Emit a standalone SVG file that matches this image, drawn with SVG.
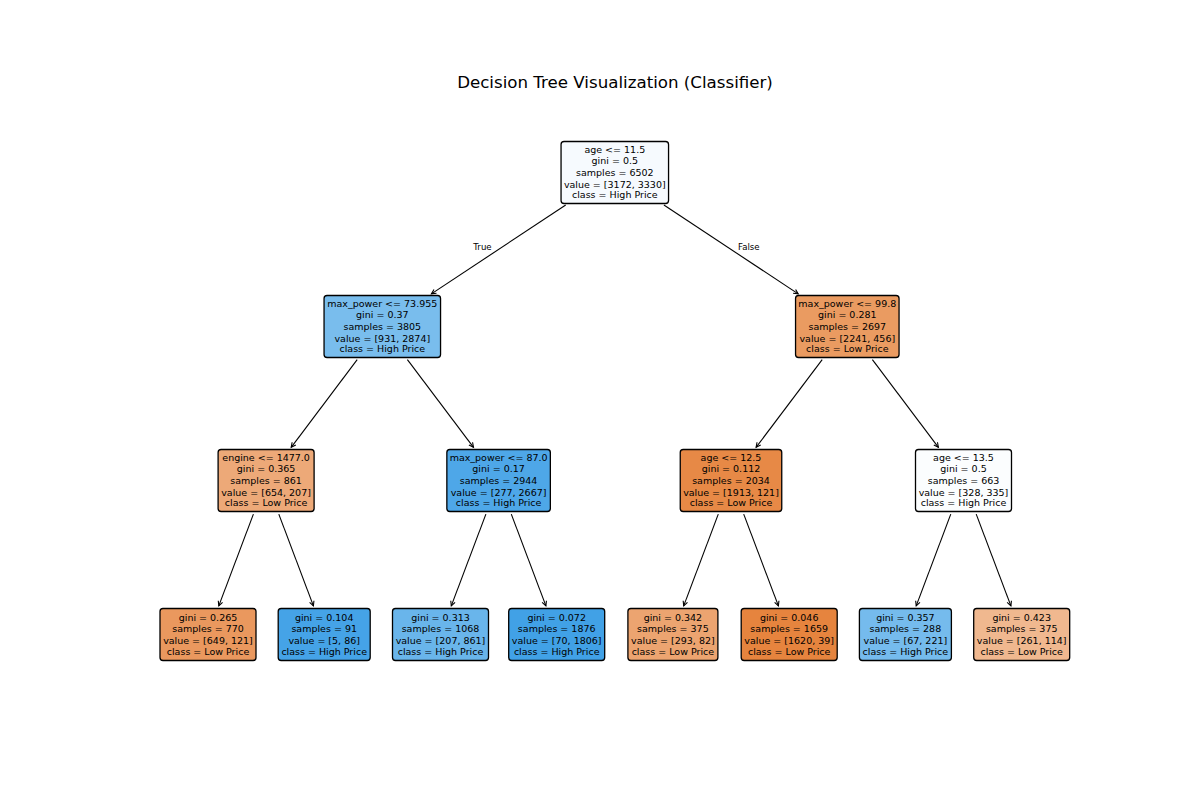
<svg xmlns="http://www.w3.org/2000/svg" width="1200" height="800" viewBox="0 0 1200 800">
<style>
.box{stroke:#000;stroke-width:1.3}
.nt{font-family:"DejaVu Sans","Liberation Sans",sans-serif;font-size:9.5px;fill:#000;text-anchor:middle}
.lbl{font-family:"DejaVu Sans","Liberation Sans",sans-serif;font-size:8.6px;fill:#000;text-anchor:middle}
.title{font-family:"DejaVu Sans","Liberation Sans",sans-serif;font-size:16.67px;fill:#000;text-anchor:middle}
.edge{stroke:#000;stroke-width:1.1;fill:none;marker-end:url(#ah)}
</style>
<defs>
<marker id="ah" markerUnits="userSpaceOnUse" viewBox="-6 -4 8 8" markerWidth="8" markerHeight="8" refX="0" refY="0" orient="auto">
<path d="M-4.6,-2.3 L0,0 L-4.6,2.3" fill="none" stroke="#000" stroke-width="1.1"/>
</marker>
</defs>
<rect width="1200" height="800" fill="#fff"/>
<text class="title" x="615" y="88">Decision Tree Visualization (Classifier)</text>

<g id="connectors">
<line class="edge" x1="565.7" y1="205.0" x2="431.4" y2="293.9"/>
<line class="edge" x1="663.9" y1="205.0" x2="798.2" y2="293.9"/>
<line class="edge" x1="357.2" y1="359.7" x2="291.2" y2="447.3"/>
<line class="edge" x1="407.4" y1="359.7" x2="473.5" y2="447.3"/>
<line class="edge" x1="822.2" y1="359.7" x2="756.1" y2="447.3"/>
<line class="edge" x1="872.4" y1="359.7" x2="938.4" y2="447.3"/>
<line class="edge" x1="253.4" y1="514.1" x2="218.8" y2="605.9"/>
<line class="edge" x1="278.8" y1="514.1" x2="313.4" y2="605.9"/>
<line class="edge" x1="485.9" y1="514.1" x2="451.3" y2="605.9"/>
<line class="edge" x1="511.3" y1="514.1" x2="545.9" y2="605.9"/>
<line class="edge" x1="718.3" y1="514.1" x2="683.7" y2="605.9"/>
<line class="edge" x1="743.7" y1="514.1" x2="778.4" y2="605.9"/>
<line class="edge" x1="950.8" y1="514.1" x2="916.2" y2="605.9"/>
<line class="edge" x1="976.2" y1="514.1" x2="1010.9" y2="605.9"/>
<text class="lbl" x="482.5" y="250">True</text>
<text class="lbl" x="748.8" y="250">False</text>
</g>

<g id="node0">
<rect class="box" x="561.05" y="141.5" width="107.5" height="62" rx="3" fill="#f6fafe"/>
<text class="nt"><tspan x="614.8" y="152.8">age &lt;= 11.5</tspan><tspan x="614.8" y="164.3">gini = 0.5</tspan><tspan x="614.8" y="175.5">samples = 6502</tspan><tspan x="614.8" y="187.7">value = [3172, 3330]</tspan><tspan x="614.8" y="198.3">class = High Price</tspan></text>
</g>

<g id="node1">
<rect class="box" x="324.05" y="295.5" width="116.5" height="62" rx="3" fill="#79bded"/>
<text class="nt"><tspan x="382.3" y="306.8">max_power &lt;= 73.955</tspan><tspan x="382.3" y="318.3">gini = 0.37</tspan><tspan x="382.3" y="329.5">samples = 3805</tspan><tspan x="382.3" y="341.7">value = [931, 2874]</tspan><tspan x="382.3" y="352.3">class = High Price</tspan></text>
</g>

<g id="node8">
<rect class="box" x="795.55" y="295.5" width="103.5" height="62" rx="3" fill="#ea9b61"/>
<text class="nt"><tspan x="847.3" y="306.8">max_power &lt;= 99.8</tspan><tspan x="847.3" y="318.3">gini = 0.281</tspan><tspan x="847.3" y="329.5">samples = 2697</tspan><tspan x="847.3" y="341.7">value = [2241, 456]</tspan><tspan x="847.3" y="352.3">class = Low Price</tspan></text>
</g>

<g id="node2">
<rect class="box" x="218.1" y="449.5" width="96" height="62" rx="3" fill="#eda978"/>
<text class="nt"><tspan x="266.1" y="460.8">engine &lt;= 1477.0</tspan><tspan x="266.1" y="472.3">gini = 0.365</tspan><tspan x="266.1" y="483.5">samples = 861</tspan><tspan x="266.1" y="495.7">value = [654, 207]</tspan><tspan x="266.1" y="506.3">class = Low Price</tspan></text>
</g>

<g id="node5">
<rect class="box" x="446.85" y="449.5" width="103.5" height="62" rx="3" fill="#4ea7e8"/>
<text class="nt"><tspan x="498.6" y="460.8">max_power &lt;= 87.0</tspan><tspan x="498.6" y="472.3">gini = 0.17</tspan><tspan x="498.6" y="483.5">samples = 2944</tspan><tspan x="498.6" y="495.7">value = [277, 2667]</tspan><tspan x="498.6" y="506.3">class = High Price</tspan></text>
</g>

<g id="node9">
<rect class="box" x="680.25" y="449.5" width="101.5" height="62" rx="3" fill="#e78946"/>
<text class="nt"><tspan x="731" y="460.8">age &lt;= 12.5</tspan><tspan x="731" y="472.3">gini = 0.112</tspan><tspan x="731" y="483.5">samples = 2034</tspan><tspan x="731" y="495.7">value = [1913, 121]</tspan><tspan x="731" y="506.3">class = Low Price</tspan></text>
</g>

<g id="node12">
<rect class="box" x="915.5" y="449.5" width="96" height="62" rx="3" fill="#fbfdfe"/>
<text class="nt"><tspan x="963.5" y="460.8">age &lt;= 13.5</tspan><tspan x="963.5" y="472.3">gini = 0.5</tspan><tspan x="963.5" y="483.5">samples = 663</tspan><tspan x="963.5" y="495.7">value = [328, 335]</tspan><tspan x="963.5" y="506.3">class = High Price</tspan></text>
</g>

<g id="node3">
<rect class="box" x="160" y="608.5" width="96" height="52" rx="3" fill="#ea985e"/>
<text class="nt"><tspan x="208" y="620.8">gini = 0.265</tspan><tspan x="208" y="632.1">samples = 770</tspan><tspan x="208" y="644.3">value = [649, 121]</tspan><tspan x="208" y="654.7">class = Low Price</tspan></text>
</g>

<g id="node4">
<rect class="box" x="278.2" y="608.5" width="92" height="52" rx="3" fill="#45a3e7"/>
<text class="nt"><tspan x="324.2" y="620.8">gini = 0.104</tspan><tspan x="324.2" y="632.1">samples = 91</tspan><tspan x="324.2" y="644.3">value = [5, 86]</tspan><tspan x="324.2" y="654.7">class = High Price</tspan></text>
</g>

<g id="node6">
<rect class="box" x="392.5" y="608.5" width="96" height="52" rx="3" fill="#69b5eb"/>
<text class="nt"><tspan x="440.5" y="620.8">gini = 0.313</tspan><tspan x="440.5" y="632.1">samples = 1068</tspan><tspan x="440.5" y="644.3">value = [207, 861]</tspan><tspan x="440.5" y="654.7">class = High Price</tspan></text>
</g>

<g id="node7">
<rect class="box" x="508.7" y="608.5" width="96" height="52" rx="3" fill="#41a1e6"/>
<text class="nt"><tspan x="556.7" y="620.8">gini = 0.072</tspan><tspan x="556.7" y="632.1">samples = 1876</tspan><tspan x="556.7" y="644.3">value = [70, 1806]</tspan><tspan x="556.7" y="654.7">class = High Price</tspan></text>
</g>

<g id="node10">
<rect class="box" x="627.9" y="608.5" width="90" height="52" rx="3" fill="#eca470"/>
<text class="nt"><tspan x="672.9" y="620.8">gini = 0.342</tspan><tspan x="672.9" y="632.1">samples = 375</tspan><tspan x="672.9" y="644.3">value = [293, 82]</tspan><tspan x="672.9" y="654.7">class = Low Price</tspan></text>
</g>

<g id="node11">
<rect class="box" x="741.2" y="608.5" width="96" height="52" rx="3" fill="#e6843e"/>
<text class="nt"><tspan x="789.2" y="620.8">gini = 0.046</tspan><tspan x="789.2" y="632.1">samples = 1659</tspan><tspan x="789.2" y="644.3">value = [1620, 39]</tspan><tspan x="789.2" y="654.7">class = Low Price</tspan></text>
</g>

<g id="node13">
<rect class="box" x="859.4" y="608.5" width="92" height="52" rx="3" fill="#75bbed"/>
<text class="nt"><tspan x="905.4" y="620.8">gini = 0.357</tspan><tspan x="905.4" y="632.1">samples = 288</tspan><tspan x="905.4" y="644.3">value = [67, 221]</tspan><tspan x="905.4" y="654.7">class = High Price</tspan></text>
</g>

<g id="node14">
<rect class="box" x="973.7" y="608.5" width="96" height="52" rx="3" fill="#f0b88f"/>
<text class="nt"><tspan x="1021.7" y="620.8">gini = 0.423</tspan><tspan x="1021.7" y="632.1">samples = 375</tspan><tspan x="1021.7" y="644.3">value = [261, 114]</tspan><tspan x="1021.7" y="654.7">class = Low Price</tspan></text>
</g>
</svg>
